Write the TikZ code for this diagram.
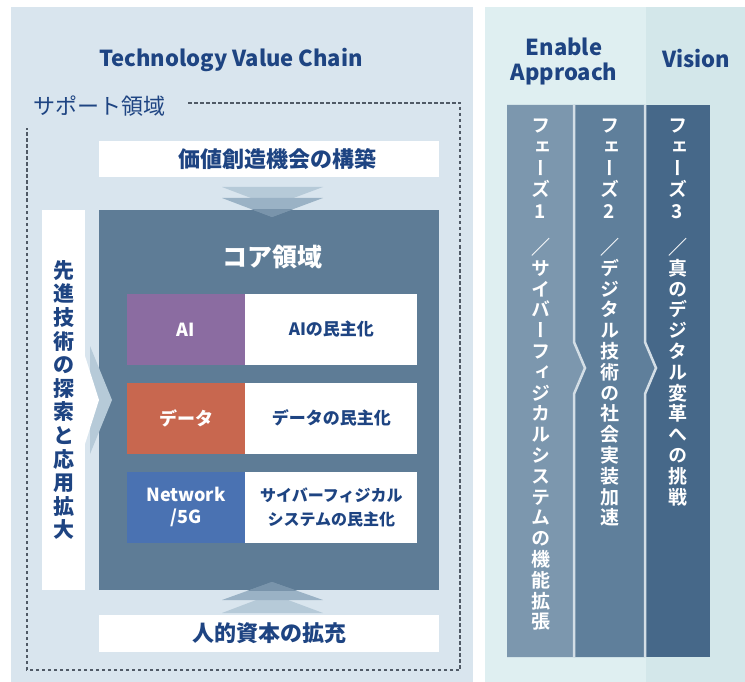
\documentclass[tikz,border=0pt]{standalone}
\usepackage{fontspec}
\setmainfont{Noto Sans CJK JP}
\newfontfamily\jpvert[RawFeature=+vert, BoldFont={Noto Sans CJK JP Bold}]{Noto Sans CJK JP}
\usetikzlibrary{positioning}

\definecolor{panel}{HTML}{D9E5EE}
\definecolor{enable}{HTML}{DFEFF1}
\definecolor{vision}{HTML}{D3E7EA}
\definecolor{navy}{HTML}{1E4482}
\definecolor{core}{HTML}{5E7C96}
\definecolor{arrowlt}{HTML}{B6CAD8}
\definecolor{arrowdk}{HTML}{9AB2C5}
\definecolor{aicol}{HTML}{8B6CA1}
\definecolor{datacol}{HTML}{C8674F}
\definecolor{netcol}{HTML}{4A72B2}
\definecolor{phaseA}{HTML}{7C97AE}
\definecolor{phaseB}{HTML}{5F7F9B}
\definecolor{phaseC}{HTML}{466889}
\definecolor{sepcol}{HTML}{D3DEE6}
\definecolor{dashcol}{HTML}{505A66}

% stack characters one below the other
\newcommand\vend{VEND}
\newcommand\vstack[2]{\vbox{\baselineskip=#1\lineskiplimit=-100pt\lineskip=0pt\vstep#2\vend}}
\def\vstep#1{\ifx\vend#1\else\hbox to 1em{\hss#1\hss}\expandafter\vstep\fi}

\tikzset{
  title/.style={font=\fontsize{22}{25}\selectfont\bfseries, text=navy, align=center},
  bandtext/.style={font=\fontsize{22}{24}\selectfont\bfseries, text=navy},
  tag/.style={minimum width=118pt, minimum height=71pt, inner sep=0pt, text=white,
    font=\fontsize{18}{22}\selectfont\bfseries, align=center},
  desc/.style={fill=white, minimum width=172pt, minimum height=71pt, inner sep=0pt, text=navy,
    font=\fontsize{17}{24}\selectfont\bfseries, align=center},
  phasetext/.style={anchor=north, inner sep=0pt, text=white, font=\fontsize{19}{20}\selectfont\jpvert\bfseries}
}

\begin{document}
\begin{tikzpicture}[x=1pt,y=-1pt]

  \useasboundingbox (0,0) rectangle (745,682);

  % panels
  \fill[panel] (11,7) rectangle (473,682);
  \fill[enable] (485,7) rectangle (646,682);
  \fill[vision] (646,7) rectangle (745,682);

  \node[title] (tvc) at (231,60) {Technology Value Chain};
  \node[title] (enable) at (564,61) {Enable\\Approach};
  \node[title] (vision) at (696,59) {Vision};

  % support area
  \draw[dashcol, line width=1.1pt, dash pattern=on 3.5pt off 2.5pt] (188,103) -| (460,670) -| (27,128);
  \node[anchor=west, inner sep=0pt, text=navy, font=\fontsize{22}{24}\selectfont] (support) at (33,106) {サポート領域};

  \fill[white] (99,141) rectangle (439,177);
  \node[bandtext] (value) at (277,159) {価値創造機会の構築};

  \fill[white] (99,615) rectangle (439,652);
  \node[bandtext] (human) at (269,633.5) {人的資本の拡充};

  % core area
  \fill[core] (99,210) rectangle (439,590);
  \node[text=white, font=\fontsize{25}{28}\selectfont\bfseries] (coretitle) at (272,257) {コア領域};

  \fill[arrowlt] (222,187) -- (323,187) -- (272,206) -- cycle;
  \fill[arrowdk] (222,198) -- (323,198) -- (272,217) -- cycle;
  \fill[arrowlt] (222,613) -- (323,613) -- (272,594) -- cycle;
  \fill[arrowdk] (222,600) -- (323,600) -- (272,582) -- cycle;
  \begin{scope}
    \clip (99,210) rectangle (439,590);
    \fill[core, opacity=0.55] (222,198) -- (323,198) -- (272,217) -- cycle;
    \fill[core, opacity=0.55] (222,600) -- (323,600) -- (272,582) -- cycle;
  \end{scope}

  \node[tag, fill=aicol] (ai) at (186,329.5) {AI};
  \node[desc, right=0pt of ai] (aidesc) {AIの民主化};
  \node[tag, fill=datacol] (data) at (186,418) {データ};
  \node[desc, right=0pt of data] (datadesc) {データの民主化};
  \node[tag, fill=netcol] (net) at (186,507) {Network\\/5G};
  \node[desc, right=0pt of net, font=\fontsize{16}{24}\selectfont\bfseries] (netdesc) {サイバーフィジカル\\システムの民主化};

  % exploration
  \node[fill=white, minimum width=43pt, minimum height=380pt, inner sep=0pt, text=navy,
    font=\fontsize{21}{24}\selectfont\bfseries] (explore) at (63.5,400) {\vstack{23.6pt}{先進技術の探索と応用拡大}};
  \fill[arrowlt] (90,346) -- (112,400) -- (90,454) -- cycle;
  \fill[white] (85,356) -- (99,400) -- (85,444) -- cycle;

  % phases
  \fill[phaseC] (645,105) rectangle (710,657);
  \fill[phaseB] (574,105) -- (645,105) -- (645,342) -- (656,368) -- (645,394) -- (645,657) -- (574,657) -- cycle;
  \fill[phaseA] (507,105) -- (574,105) -- (574,342) -- (585,368) -- (574,394) -- (574,657) -- (507,657) -- cycle;
  \draw[sepcol, line width=2.5pt] (574,105) -- (574,342) -- (585,368) -- (574,394) -- (574,657);
  \draw[sepcol, line width=2.5pt] (645,105) -- (645,342) -- (656,368) -- (645,394) -- (645,657);

  \node[phasetext] (ph1) at (540.5,119) {\vstack{21.3pt}{フェーズ1}};
  \node[phasetext] (ph1txt) at (540.5,238) {\vstack{20.8pt}{{{\rmfamily ／}}サイバーフィジカルシステムの機能拡張}};
  \node[phasetext] (ph2) at (609.5,119) {\vstack{21.3pt}{フェーズ2}};
  \node[phasetext] (ph2txt) at (609.5,238) {\vstack{20.8pt}{{{\rmfamily ／}}デジタル技術の社会実装加速}};
  \node[phasetext] (ph3) at (677.5,119) {\vstack{21.3pt}{フェーズ3}};
  \node[phasetext] (ph3txt) at (677.5,238) {\vstack{20.8pt}{{{\rmfamily ／}}真のデジタル変革への挑戦}};

\end{tikzpicture}
\end{document}
